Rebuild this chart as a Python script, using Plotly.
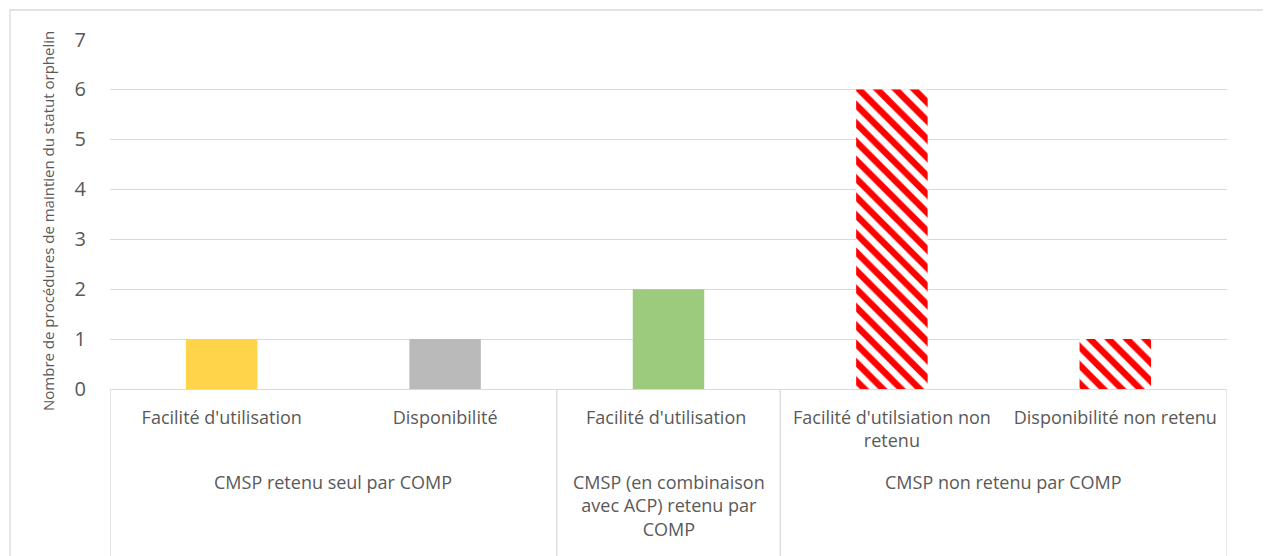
import plotly.graph_objects as go

categories = ["Facilité d'utilisation", "Disponibilité", "Facilité d'utilisation ",
              "Facilité d'utilsiation non<br>retenu", "Disponibilité non retenu"]
values = [1, 1, 2, 6, 1]
colors = ["#FFD44A", "#BABABA", "#9DCB7E", "#FF0000", "#FF0000"]
hatched = [False, False, False, True, True]
groups = ["CMSP retenu seul par COMP",
          "CMSP (en combinaison<br>avec ACP) retenu par<br>COMP",
          "CMSP non retenu par COMP"]
group_centers = [0.5, 2, 3.5]
group_bounds = [-0.5, 1.5, 2.5, 4.5]
yticks = [0, 1, 2, 3, 4, 5, 6, 7]

FONT = "'Open Sans', sans-serif"
GREY = "#595959"
LINE = "#D9D9D9"
OFF = 8  # default page body margin
W, H = 1271 - OFF, 556 - OFF
L, T = 110 - OFF, 39 - OFF
PR, PB = 1227 - OFF, 389 - OFF
R, B = W - PR, H - PB
pw, ph = PR - L, PB - T

xs = list(range(len(categories)))
solid_x = [x for x, h in zip(xs, hatched) if not h]
hatch_x = [x for x, h in zip(xs, hatched) if h]

fig = go.Figure()
fig.add_trace(go.Bar(
    x=solid_x, y=[values[i] for i in solid_x],
    marker=dict(color=[colors[i] for i in solid_x], line=dict(width=0)),
    width=0.32,
))
fig.add_trace(go.Bar(
    x=hatch_x, y=[values[i] for i in hatch_x],
    marker=dict(color="white", line=dict(width=0),
                pattern=dict(shape="\\", fgcolor=colors[hatch_x[0]], bgcolor="white",
                             fgopacity=1, size=13, solidity=0.5, fillmode="overlay")),
    width=0.32,
))

shapes = []
for b in group_bounds:
    shapes.append(dict(type="line", xref="x", yref="paper", x0=b, x1=b,
                       y0=0, y1=-(H + 10 - PB) / ph,
                       line=dict(color=LINE, width=1.3)))
shapes.append(dict(type="rect", xref="paper", yref="paper",
                   x0=(2 - L) / pw, x1=(W + 20 - L) / pw,
                   y0=-(H + 20 - PB) / ph, y1=(PB - 2) / ph,
                   line=dict(color=LINE, width=1.3), fillcolor="rgba(0,0,0,0)",
                   layer="below"))

annotations = []
for g, c in zip(groups, group_centers):
    annotations.append(dict(text=g, x=c, xref="x", y=-(468 - OFF - PB) / ph,
                            yref="paper", yanchor="top", showarrow=False,
                            font=dict(family=FONT, size=18, color=GREY),
                            align="center"))
annotations.append(dict(text="Nombre de procédures de maintien du statut orphelin",
                        x=(48 - OFF - L) / pw, xref="paper", xanchor="center",
                        y=(PB - (221 - OFF)) / ph, yref="paper", yanchor="middle",
                        textangle=-90, showarrow=False,
                        font=dict(family=FONT, size=15, color=GREY)))

fig.update_layout(
    width=W, height=H,
    margin=dict(l=L, r=R, t=T, b=B),
    paper_bgcolor="white", plot_bgcolor="white",
    showlegend=False, barmode="overlay",
    shapes=shapes, annotations=annotations,
    xaxis=dict(tickmode="array", tickvals=xs, ticktext=categories,
               range=[-0.5, 4.5], automargin=False,
               showline=True, linecolor=LINE, linewidth=1.3,
               showgrid=False, ticks="", ticklabelstandoff=12,
               tickfont=dict(family=FONT, size=18, color=GREY)),
    yaxis=dict(range=[0, 7.01], tickvals=yticks, showgrid=True, automargin=False,
               gridcolor=LINE, gridwidth=1.3, zeroline=False,
               ticks="", ticklabelstandoff=23,
               tickfont=dict(family=FONT, size=20, color=GREY)),
)

fig.write_html("out.html")
